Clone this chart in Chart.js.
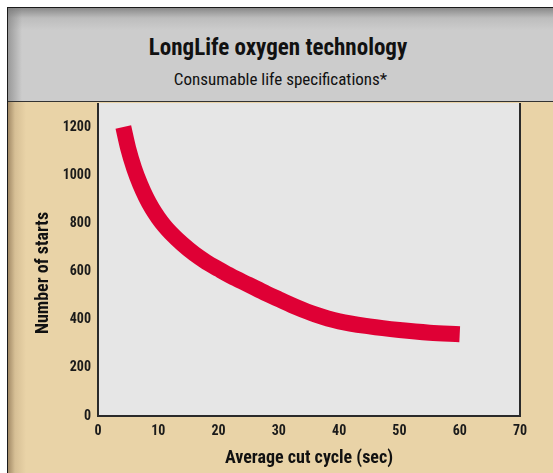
<!DOCTYPE html>
<html>
<head>
<meta charset="utf-8">
<script src="https://cdn.jsdelivr.net/npm/chart.js@4/dist/chart.umd.min.js"></script>
<style>
  body { margin: 0; background: #fff; width: 553px; height: 473px; overflow: hidden; }
  .frame { position: absolute; left: 7px; top: 7px; width: 546px; height: 466px;
    border-left: 1.5px solid #1a1a1a; border-top: 1.5px solid #1a1a1a; box-sizing: border-box;
    background: linear-gradient(to right, #a38b67 0px, #d6bf95 7px, #e9d3a7 18px); }
  .header { position: absolute; left: 8px; top: 8px; width: 545px; height: 94px;
    border-bottom: 1.5px solid #333; box-sizing: border-box;
    background: linear-gradient(to right, rgba(120,120,120,0.6) 0px, rgba(204,204,204,0) 14px),
                linear-gradient(to bottom, #8a8a8a 0px, #bdbdbd 10px, #cccccc 22px, #cccccc 100%);
    font-family: 'Roboto Condensed', Roboto, sans-serif; font-stretch: condensed; color: #111; text-align: center; }
  .title { position: absolute; left: 0; width: 540px; top: 26px; font-size: 23px; font-weight: bold; }
  .sub { position: absolute; left: 0; width: 545px; top: 61px; font-size: 17px; }
  .wrap { position: absolute; left: 8px; top: 103px; width: 545px; height: 370px; }
</style>
</head>
<body>
<div class="frame"></div>
<div class="header">
  <div class="title">LongLife oxygen technology</div>
  <div class="sub">Consumable life specifications*</div>
</div>
<div class="wrap"><canvas id="chart" width="545" height="370"></canvas></div>
<script>
// values
var cutCycle = [4.2, 5, 6, 7, 8, 9, 10, 11, 12, 14, 16, 18, 20, 22, 25, 28, 30, 33, 36, 40, 45, 50, 55, 60];
var starts = [1200, 1112, 1028, 962, 907, 861, 823, 790, 762, 714, 673, 639, 610, 582, 545, 508, 485, 451, 422, 393, 372, 357, 346, 340];
var xTicks = [0, 10, 20, 30, 40, 50, 60, 70];
var yTicks = [0, 200, 400, 600, 800, 1000, 1200];
var yTitle = 'Number of starts';

var fontFamily = "'Roboto Condensed', Roboto, sans-serif";

// gray plot background with dark frame, plus the y title a bit below centre
var plotFrame = {
  id: 'plotFrame',
  beforeDatasetsDraw: function(chart) {
    var a = chart.chartArea, ctx = chart.ctx;
    ctx.save();
    ctx.fillStyle = '#e6e6e6';
    ctx.fillRect(a.left, a.top, a.right - a.left, a.bottom - a.top);
    ctx.strokeStyle = '#2a2a2a';
    ctx.lineWidth = 2;
    ctx.beginPath();
    ctx.moveTo(a.left, a.top);
    ctx.lineTo(a.left, a.bottom);
    ctx.lineTo(a.right, a.bottom);
    ctx.lineTo(a.right, a.top);
    ctx.stroke();
    ctx.restore();
  },
  afterDraw: function(chart) {
    var ctx = chart.ctx;
    ctx.save();
    ctx.translate(35, 170);
    ctx.rotate(-Math.PI / 2);
    ctx.font = 'bold 18px ' + fontFamily;
    ctx.fillStyle = '#111';
    ctx.textAlign = 'center';
    ctx.textBaseline = 'middle';
    ctx.fillText(yTitle, 0, 0);
    ctx.restore();
  }
};

var points = cutCycle.map(function(x, i) { return { x: x, y: starts[i] }; });

new Chart(document.getElementById('chart'), {
  type: 'line',
  data: {
    datasets: [{
      data: points,
      borderColor: '#df0035',
      borderWidth: 16,
      borderCapStyle: 'butt',
      cubicInterpolationMode: 'monotone',
      pointRadius: 0,
      fill: false
    }]
  },
  options: {
    responsive: false,
    animation: false,
    layout: { padding: { left: 0, right: 33, top: 0, bottom: 0 } },
    plugins: { legend: { display: false }, tooltip: { enabled: false } },
    scales: {
      x: {
        type: 'linear', min: 0, max: 70,
        afterBuildTicks: function(s) { s.ticks = xTicks.map(function(v) { return { value: v }; }); },
        afterFit: function(s) { s.height = 57; s.paddingLeft = 0; s.paddingRight = 0; },
        grid: { display: false, drawTicks: false },
        border: { display: false },
        ticks: { padding: 7, maxRotation: 0, color: '#1a1a1a',
          callback: function(v) { return String(v); },
          font: { family: fontFamily, size: 14, weight: 'bold' } },
        title: { display: true, text: 'Average cut cycle (sec)', color: '#111', padding: { top: 4 },
          font: { family: fontFamily, size: 18, weight: 'bold' } }
      },
      y: {
        type: 'linear', min: 0, max: 1300,
        afterBuildTicks: function(s) { s.ticks = yTicks.map(function(v) { return { value: v }; }); },
        afterFit: function(s) { s.width = 90; s.paddingTop = 0; s.paddingBottom = 0; },
        grid: { display: false, drawTicks: false },
        border: { display: false },
        ticks: { padding: 7, color: '#1a1a1a',
          callback: function(v) { return String(v); },
          font: { family: fontFamily, size: 14, weight: 'bold' } },
        title: { display: false }
      }
    }
  },
  plugins: [plotFrame]
});
</script>
</body>
</html>
